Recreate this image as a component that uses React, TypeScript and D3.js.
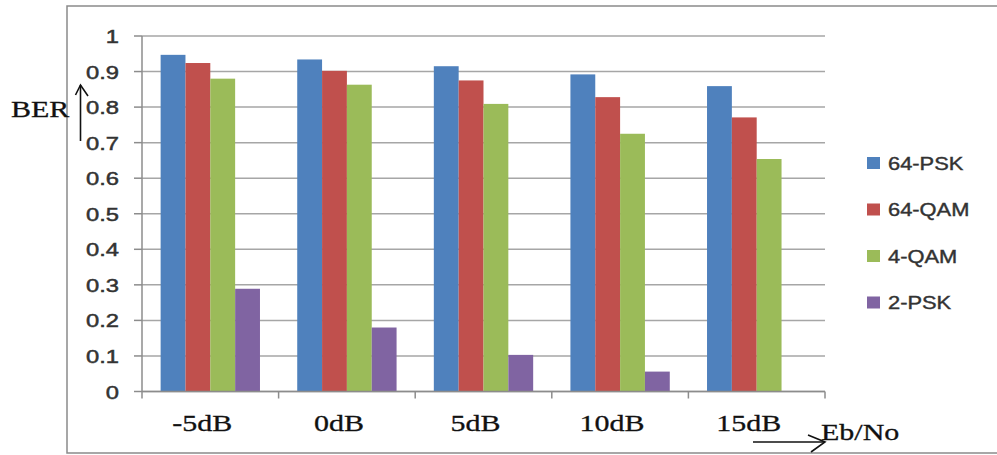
import React from "react";
import * as d3 from "d3";

// Eb/No operating points and the BER measured for each modulation scheme
const categories = ["-5dB", "0dB", "5dB", "10dB", "15dB"];
const seriesNames = ["64-PSK", "64-QAM", "4-QAM", "2-PSK"];
const psk64 = [0.947, 0.934, 0.915, 0.892, 0.859];
const qam64 = [0.924, 0.902, 0.875, 0.828, 0.771];
const qam4 = [0.88, 0.863, 0.809, 0.725, 0.654];
const psk2 = [0.289, 0.18, 0.103, 0.056, 0];
const yTicks = [0, 0.1, 0.2, 0.3, 0.4, 0.5, 0.6, 0.7, 0.8, 0.9, 1];
const seriesColors = ["#4F81BD", "#C0504D", "#9BBB59", "#8064A2"];

const W = 997;
const H = 455;
const plot = { left: 142, right: 825, top: 36, bottom: 391.5 };
const SX = 1.25; // horizontal text stretch

export default function App() {
  const series = [psk64, qam64, qam4, psk2];

  const x = d3
    .scaleBand<string>()
    .domain(categories)
    .range([plot.left, plot.right])
    .padding(0);
  const inner = d3
    .scaleBand<string>()
    .domain(seriesNames)
    .range([0, x.bandwidth()])
    .paddingInner(0)
    .paddingOuter(0.75);
  const y = d3.scaleLinear().domain([0, 1]).range([plot.bottom, plot.top]);

  const sansFont = "'Liberation Sans', Arial, sans-serif";
  const serifFont = "'Liberation Serif', 'Times New Roman', serif";

  const stretched = (tx: number, ty: number) =>
    `translate(${tx},${ty}) scale(${SX},1)`;

  const boundaries = d3.range(categories.length + 1).map((i) =>
    i < categories.length ? (x(categories[i]) as number) : plot.right
  );

  return (
    <svg
      width={W}
      height={H}
      style={{ position: "absolute", left: 0, top: 0, background: "#fff" }}
    >
      <rect x={0} y={0} width={W} height={H} fill="#fff" />
      {/* chart frame */}
      <rect
        x={67}
        y={6}
        width={940}
        height={447}
        fill="none"
        stroke="#8a8a8a"
        strokeWidth={1.5}
      />

      {/* gridlines */}
      {yTicks.map((t) => (
        <line
          key={"g" + t}
          x1={plot.left}
          x2={plot.right}
          y1={y(t)}
          y2={y(t)}
          stroke="#a6a6a6"
          strokeWidth={1.5}
        />
      ))}

      {/* y axis with ticks */}
      <line
        x1={plot.left}
        x2={plot.left}
        y1={plot.top}
        y2={plot.bottom}
        stroke="#8c8c8c"
        strokeWidth={1.5}
      />
      {yTicks.map((t) => (
        <line
          key={"yt" + t}
          x1={plot.left - 8}
          x2={plot.left}
          y1={y(t)}
          y2={y(t)}
          stroke="#8c8c8c"
          strokeWidth={1.5}
        />
      ))}
      {yTicks.map((t) => (
        <text
          key={"yl" + t}
          transform={stretched(119, y(t) + 7)}
          textAnchor="end"
          fontFamily={sansFont}
          fontSize={19}
          fill="#333"
          stroke="#333"
          strokeWidth={0.5}
        >
          {d3.format("~g")(t)}
        </text>
      ))}

      {/* bars */}
      {categories.map((c, ci) =>
        series.map((vals, si) => {
          const v = vals[ci];
          const bx = (x(c) as number) + (inner(seriesNames[si]) as number);
          return (
            <rect
              key={c + si}
              x={bx}
              y={y(v)}
              width={inner.bandwidth()}
              height={plot.bottom - y(v)}
              fill={seriesColors[si]}
            />
          );
        })
      )}

      {/* x axis with ticks */}
      <line
        x1={plot.left}
        x2={plot.right}
        y1={plot.bottom}
        y2={plot.bottom}
        stroke="#8c8c8c"
        strokeWidth={1.5}
      />
      {boundaries.map((bx, i) => (
        <line
          key={"xt" + i}
          x1={bx}
          x2={bx}
          y1={plot.bottom}
          y2={plot.bottom + 7}
          stroke="#8c8c8c"
          strokeWidth={1.5}
        />
      ))}
      {categories.map((c) => (
        <text
          key={"xl" + c}
          transform={stretched((x(c) as number) + x.bandwidth() / 2 - 8, 431)}
          textAnchor="middle"
          fontFamily={serifFont}
          fontSize={24}
          fill="#111"
          stroke="#111"
          strokeWidth={0.3}
        >
          {c}
        </text>
      ))}

      {/* legend */}
      {seriesNames.map((n, i) => {
        const ly = 163 + i * 46.5;
        return (
          <g key={"lg" + n}>
            <rect
              x={867}
              y={ly - 6}
              width={13}
              height={12}
              fill={seriesColors[i]}
            />
            <text
              transform={stretched(888, ly + 6.5)}
              fontFamily={sansFont}
              fontSize={17.5}
              fill="#333"
              stroke="#333"
              strokeWidth={0.4}
            >
              {n}
            </text>
          </g>
        );
      })}

      {/* axis captions with arrows */}
      <text
        transform={stretched(11, 117)}
        fontFamily={serifFont}
        fontSize={24}
        fill="#111"
        stroke="#111"
        strokeWidth={0.3}
      >
        BER
      </text>
      <g stroke="#111" strokeWidth={1.6} fill="none">
        <line x1={80.5} x2={80.5} y1={85} y2={141} />
        <polyline points="75.5,95 80.5,85 88,96" />
        <line x1={753} x2={825} y1={442} y2={442} />
        <polyline points="808,435 825,442 811,452" />
      </g>
      <text
        transform={stretched(821, 440)}
        fontFamily={serifFont}
        fontSize={24}
        fill="#111"
        stroke="#111"
        strokeWidth={0.3}
      >
        Eb/No
      </text>
    </svg>
  );
}
